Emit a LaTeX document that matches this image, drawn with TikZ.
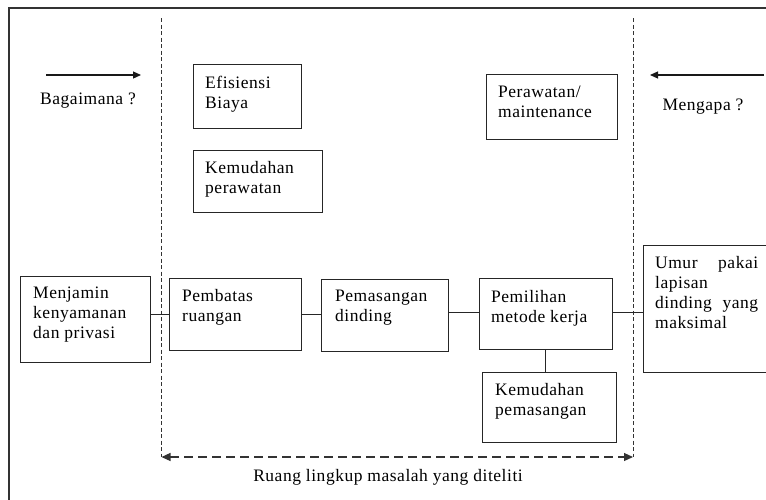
\documentclass[tikz,border=0pt]{standalone}
\usepackage{fontspec}
\setmainfont{Liberation Serif}[LetterSpace=3]
\usetikzlibrary{arrows.meta}
\begin{document}
\begin{tikzpicture}[x=1pt,y=-1pt,
  ln/.style={line width=1pt, draw=black!85},
  box/.style={ln, draw, anchor=north west, inner sep=0pt, outer sep=0pt},
  txt/.style={anchor=north west, align=left, inner xsep=12pt, inner ysep=11.5pt, text=black,
    font=\fontsize{17.5}{20}\selectfont},
  plain/.style={text=black, font=\fontsize{17.5}{20}\selectfont, inner sep=0pt},
  tip/.style={-{Triangle[length=8pt,width=7pt]}, line width=1.2pt, draw=black!90},
  vdash/.style={line width=1pt, draw=black!80, dash pattern=on 4pt off 2.5pt},
  hdash/.style={{Triangle[length=9pt,width=8pt]}-{Triangle[length=9pt,width=8pt]}, line width=1.1pt, draw=black!80, dash pattern=on 9pt off 5pt}
]
\useasboundingbox (0,0) rectangle (766,499);
\clip (0,0) rectangle (766,499);
\fill[white] (0,0) rectangle (766,499);
% outer frame (cut at right and bottom)
\draw[line width=1.3pt, draw=black!80] (9,520) -- (9,8) -- (800,8);

% dashed scope lines
\coordinate (lt) at (161.5,18);
\coordinate (lb) at (161.5,457);
\coordinate (rt) at (633,18);
\coordinate (rb) at (633,457);
\draw[vdash] (lt) -- (lb);
\draw[vdash] (rt) -- (rb);
\draw[hdash] (lb) -- (rb);
\node[plain] (ruang) at (388,477) {Ruang lingkup masalah yang diteliti};

% top arrows
\coordinate (a1s) at (46,75);
\coordinate (a1e) at (141,75);
\coordinate (a2s) at (764,75);
\coordinate (a2e) at (650,75);
\draw[tip] (a1s) -- (a1e);
\draw[tip] (a2s) -- (a2e);
\node[plain] (bagaimana) at (88,101) {Bagaimana ?};
\node[plain] (mengapa) at (703,107) {Mengapa ?};

% upper boxes
\node[box, minimum width=108pt, minimum height=64pt,
  label={[txt]north west:Efisiensi\\Biaya}] (efis) at (193,64) {};
\node[box, minimum width=129pt, minimum height=62pt,
  label={[txt]north west:Kemudahan\\perawatan}] (kper) at (193,150) {};
\node[box, minimum width=131pt, minimum height=65pt,
  label={[txt]north west:Perawatan/\\maintenance}] (perw) at (486,74) {};

% main row
\node[box, minimum width=130pt, minimum height=86pt,
  label={[txt, inner xsep=13pt, inner ysep=11pt]north west:Menjamin\\kenyamanan\\dan privasi}] (menj) at (20,276) {};
\node[box, minimum width=132pt, minimum height=72pt,
  label={[txt, inner xsep=13pt, inner ysep=11pt]north west:Pembatas\\ruangan}] (pemb) at (169,278) {};
\node[box, minimum width=127pt, minimum height=72pt,
  label={[txt, inner xsep=14pt, inner ysep=11pt]north west:Pemasangan\\dinding}] (pemas) at (321,279) {};
\node[box, minimum width=133pt, minimum height=71pt,
  label={[txt, inner ysep=12pt]north west:Pemilihan\\metode kerja}] (pemil) at (479,278) {};
\node[box, minimum width=134pt, minimum height=70pt,
  label={[txt, inner xsep=13pt, inner ysep=11pt]north west:Kemudahan\\pemasangan}] (kpem) at (482,372) {};
\node[box, minimum width=140pt, minimum height=127pt,
  label={[txt, inner ysep=11pt]north west:\hbox to 103pt{Umur\hfil pakai}\\lapisan\\\hbox to 103pt{dinding\hfil yang}\\maksimal}] (umur) at (643,245) {};

% connectors
\draw[ln] (pemb.west) -- (pemb.west -| menj.east);
\draw[ln] (pemb.east) -- (pemb.east -| pemas.west);
\draw[ln] ([yshift=1.5pt]pemil.west) -- ([yshift=1.5pt]pemil.west -| pemas.east);
\draw[ln] ([yshift=1.5pt]pemil.east) -- ([yshift=1.5pt]pemil.east -| umur.west);
\draw[ln] (pemil.south) -- (pemil.south |- kpem.north);
\end{tikzpicture}
\end{document}
